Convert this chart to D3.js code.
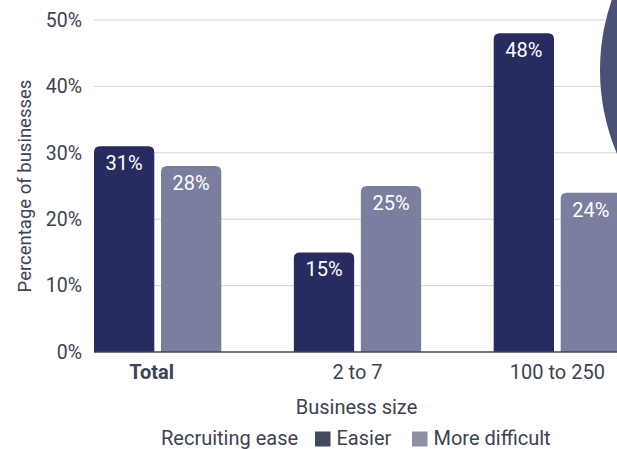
<!DOCTYPE html>
<html>
<head>
<meta charset="utf-8">
<script src="https://cdn.jsdelivr.net/npm/d3@7"></script>
<style>
  html, body { margin: 0; padding: 0; background: #fff; overflow: hidden; }
  svg { display: block; font-family: Roboto, "Noto Sans", sans-serif; }
</style>
</head>
<body>
<svg id="chart" width="617" height="449"></svg>
<script>
// Share of businesses by recruiting ease, per business size
const categories = ["Total", "2 to 7", "100 to 250"];
const seriesNames = ["Easier", "More difficult"];
const easier = [31, 15, 48];
const moreDifficult = [28, 25, 24];
const yTicks = [0, 10, 20, 30, 40, 50];

const barColors = ["#272b60", "#7a7fa0"];
const legendColors = ["#434a5c", "#8c92a4"];
const textColor = "#3c4352";

const svg = d3.select("#chart");
const margin = { top: 20, left: 94, bottom: 97 };
const H = 449;

const y = d3.scaleLinear().domain([0, 50]).range([H - margin.bottom, margin.top]);
const x0 = d3.scaleBand().domain(categories).range([94, 621]).paddingInner(0.363).paddingOuter(0);
const x1 = d3.scaleBand().domain(seriesNames).range([0, x0.bandwidth()]).paddingInner(0.1);

const rows = categories.map((c, i) => ({ cat: c, vals: [easier[i], moreDifficult[i]] }));

// gridlines
svg.append("g").selectAll("line").data(yTicks.filter(t => t > 0)).join("line")
  .attr("x1", margin.left).attr("x2", 617)
  .attr("y1", d => y(d)).attr("y2", d => y(d))
  .attr("stroke", "#d4d4d4").attr("stroke-width", 1);

// y tick labels
const yAxis = svg.append("g").attr("transform", `translate(${margin.left},0)`)
  .call(d3.axisLeft(y).tickValues(yTicks).tickFormat(d => d + "%").tickSize(0).tickPadding(12));
yAxis.select(".domain").remove();
yAxis.selectAll("text").attr("font-size", 19.5).attr("fill", textColor).style("font-family", "Roboto");

// rounded-top bar path
function barPath(x, yTop, w, h, r) {
  r = Math.min(r, h, w / 2);
  return `M${x},${yTop + h}V${yTop + r}Q${x},${yTop} ${x + r},${yTop}H${x + w - r}Q${x + w},${yTop} ${x + w},${yTop + r}V${yTop + h}Z`;
}

const groups = svg.append("g").selectAll("g").data(rows).join("g")
  .attr("transform", d => `translate(${x0(d.cat)},0)`);

const cells = groups.selectAll("g").data(d => d.vals.map((v, j) => ({ v, s: seriesNames[j], j }))).join("g");
cells.append("path")
  .attr("d", d => barPath(x1(d.s), y(d.v), x1.bandwidth(), y(0) - y(d.v), 6))
  .attr("fill", d => barColors[d.j]);
cells.append("text")
  .attr("x", d => x1(d.s) + x1.bandwidth() / 2)
  .attr("y", d => y(d.v) + 17)
  .attr("dy", "0.35em")
  .attr("text-anchor", "middle")
  .attr("font-size", 20).attr("fill", "#fff")
  .text(d => d.v + "%");

// baseline
svg.append("line").attr("x1", margin.left).attr("x2", 617)
  .attr("y1", y(0)).attr("y2", y(0)).attr("stroke", "#3c4352").attr("stroke-width", 1.5);

// category labels
svg.append("g").selectAll("text").data(categories).join("text")
  .attr("x", d => x0(d) + x0.bandwidth() / 2 + (d === "Total" ? -6 : 0))
  .attr("y", 371.5).attr("dy", "0.35em")
  .attr("text-anchor", "middle").attr("font-size", 20).attr("fill", textColor)
  .attr("font-weight", d => d === "Total" ? "bold" : "normal")
  .text(d => d);

// axis titles
svg.append("text").attr("x", 356.5).attr("y", 407).attr("dy", "0.35em")
  .attr("text-anchor", "middle").attr("font-size", 20).attr("fill", textColor).text("Business size");
svg.append("text").attr("transform", `translate(25,${(y(0) + y(50)) / 2}) rotate(-90)`)
  .attr("dy", "0.35em").attr("text-anchor", "middle").attr("font-size", 18.5).attr("fill", textColor)
  .text("Percentage of businesses");

// legend
const legend = svg.append("g").attr("transform", "translate(0,438)");
legend.append("text").attr("x", 161).attr("dy", "0.35em").attr("font-size", 20).attr("fill", textColor).text("Recruiting ease");
const legendX = [315, 412];
const items = legend.selectAll("g.item").data(seriesNames).join("g").attr("class", "item")
  .attr("transform", (d, i) => `translate(${legendX[i]},0)`);
items.append("rect").attr("x", 0).attr("y", -6.5).attr("width", 15.5).attr("height", 15).attr("fill", (d, i) => legendColors[i]);
items.append("text").attr("x", 21.5).attr("dy", "0.35em").attr("font-size", 20).attr("fill", textColor).text(d => d);

// decorative disc at the top-right corner
svg.append("circle").attr("cx", 815).attr("cy", 70).attr("r", 215).attr("fill", "#4a5077");
</script>
</body>
</html>
